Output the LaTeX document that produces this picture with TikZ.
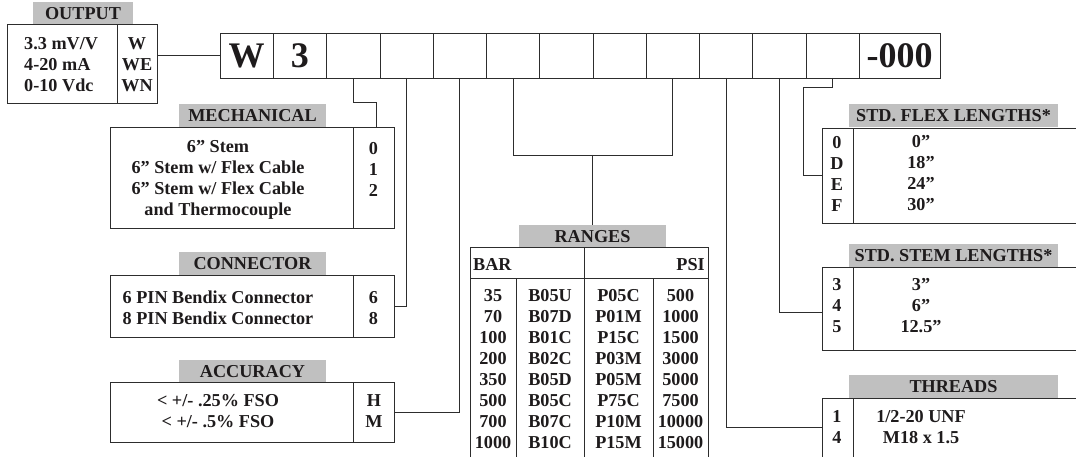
\documentclass[tikz,border=0pt]{standalone}
\usepackage{fontspec}
\setmainfont{Liberation Serif}
\usetikzlibrary{positioning}
\definecolor{linegray}{RGB}{45,45,45}
\definecolor{headgray}{RGB}{192,192,192}
\definecolor{inkgray}{RGB}{30,27,28}
\newcommand{\txtfont}{\fontsize{18.2}{21}\selectfont\bfseries}
\newcommand{\bigfont}{\fontsize{36}{40}\selectfont\bfseries}
\tikzset{
x=1pt, y=-1pt, % one unit is one pixel of the sheet, y runs down
line width=1.4pt, % frames and connectors
box/.style={draw=linegray, rectangle, inner sep=0pt, outer sep=0pt, anchor=north west}, % table frames
head/.style={fill=headgray, inner sep=0pt, minimum height=23pt, anchor=north, text=inkgray, font=\txtfont}, % gray titles
cell/.style={draw=linegray, rectangle, inner sep=0pt, outer sep=0pt, minimum width=53.25pt, minimum height=45pt, text=inkgray, font=\bigfont}, % part number boxes
txt/.style={inner sep=0pt, text=inkgray, font=\txtfont, align=center}, % table text
wire/.style={draw=linegray}, % connectors
}

\begin{document}
\begin{tikzpicture}
  \useasboundingbox (0,0) rectangle (1076,457);
  % part number
  \node[cell, anchor=west] (c1) at (220,55.5) {W};
  \node[cell, right=0pt of c1] (c2) {3};
  \foreach \i [remember=\i as \j (initially 2)] in {3,...,12}
    \node[cell, right=0pt of c\j] (c\i) {};
  \node[cell, minimum width=81pt, right=0pt of c12] (c13) {-000};

  % output
  \node[head, minimum width=100pt] (outtitle) at (83,2) {OUTPUT};
  \node[box, minimum width=110pt, minimum height=79pt] (outbox) at (7,24) {};
  \node[box, minimum width=40pt, minimum height=79pt, right=0pt of outbox] (outcode) {};
  \node[txt, anchor=west, align=left] (outtxt) at (24,65) {3.3 mV/V\\4-20 mA\\0-10 Vdc};
  \node[txt] (outcodes) at (137,65) {W\\WE\\WN};

  % mechanical
  \node[head, minimum width=147pt] (mechtitle) at (252.5,104) {MECHANICAL};
  \node[box, minimum width=243pt, minimum height=101pt] (mech) at (110,127) {};
  \node[box, minimum width=41pt, minimum height=101pt, right=0pt of mech] (mechcode) {};
  \node[txt] (mechtxt) at (218,180) {6'' Stem\\6'' Stem w/ Flex Cable\\6'' Stem w/ Flex Cable\\and Thermocouple};
  \node[txt] (mechcodes) at (373.5,169.5) {0\\1\\2};

  % connector
  \node[head, minimum width=147pt] (conntitle) at (252.5,252) {CONNECTOR};
  \node[box, minimum width=243pt, minimum height=62pt] (conn) at (110,275) {};
  \node[box, minimum width=41pt, minimum height=62pt, right=0pt of conn] (conncode) {};
  \node[txt] (conntxt) at (218,308) {6 PIN Bendix Connector\\8 PIN Bendix Connector};
  \node[txt] (conncodes) at (373.5,308) {6\\8};

  % accuracy
  \node[head, minimum width=147pt] (acctitle) at (252.5,360) {ACCURACY};
  \node[box, minimum width=243pt, minimum height=60pt] (acc) at (110,382) {};
  \node[box, minimum width=41pt, minimum height=60pt, right=0pt of acc] (acccode) {};
  \node[txt] (acctxt) at (218,411) {< +/- .25\% FSO\\< +/- .5\% FSO};
  \node[txt] (acccodes) at (374,411) {H\\M};

  % ranges
  \node[head, minimum width=147pt] (rngtitle) at (592.5,225) {RANGES};
  \node[box, minimum width=114pt, minimum height=31pt] (barhead) at (470,247) {};
  \node[box, minimum width=124pt, minimum height=31pt, right=0pt of barhead] (psihead) {};
  \node[box, minimum width=46pt, minimum height=185pt] (barcol) at (470,278) {};
  \node[box, minimum width=68pt, minimum height=185pt, right=0pt of barcol] (barcodecol) {};
  \node[box, minimum width=69pt, minimum height=185pt, right=0pt of barcodecol] (psicodecol) {};
  \node[box, minimum width=55pt, minimum height=185pt, right=0pt of psicodecol] (psicol) {};
  \node[txt, anchor=west] (bartxt) at (473,265) {BAR};
  \node[txt, anchor=east] (psitxt) at (705,265) {PSI};
  \foreach \b/\bc/\pc/\p [count=\r from 0] in {35/B05U/P05C/500, 70/B07D/P01M/1000,
      100/B01C/P15C/1500, 200/B02C/P03M/3000, 350/B05D/P05M/5000, 500/B05C/P75C/7500,
      700/B07C/P10M/10000, 1000/B10C/P15M/15000} {
    \node[txt] (bar\r) at (493,{296+21*\r}) {\b};
    \node[txt] (barcode\r) at (550,{296+21*\r}) {\bc};
    \node[txt] (psicode\r) at (618.5,{296+21*\r}) {\pc};
    \node[txt] (psi\r) at (680.5,{296+21*\r}) {\p};
  }

  % flex lengths
  \node[head, minimum width=209pt] (flextitle) at (953.5,104) {STD. FLEX LENGTHS*};
  \node[box, minimum width=31pt, minimum height=95pt] (flexcode) at (822,128) {};
  \node[box, minimum width=250pt, minimum height=95pt, right=0pt of flexcode] (flex) {};
  \node[txt] (flexcodes) at (837,173.5) {0\\D\\E\\F};
  \node[txt] (flextxt) at (921,173.5) {0''\\18''\\24''\\30''};

  % stem lengths
  \node[head, minimum width=209pt] (stemtitle) at (953.5,244) {STD. STEM LENGTHS*};
  \node[box, minimum width=31pt, minimum height=83pt] (stemcode) at (822,267) {};
  \node[box, minimum width=250pt, minimum height=83pt, right=0pt of stemcode] (stem) {};
  \node[txt] (stemcodes) at (837,306) {3\\4\\5};
  \node[txt] (stemtxt) at (921,306) {3''\\6''\\12.5''};

  % threads
  \node[head, minimum width=209pt] (thrtitle) at (953.5,375) {THREADS};
  \node[box, minimum width=31pt, minimum height=64pt] (thrcode) at (822,398) {};
  \node[box, minimum width=250pt, minimum height=64pt, right=0pt of thrcode] (thr) {};
  \node[txt] (thrcodes) at (837,427) {1\\4};
  \node[txt] (thrtxt) at (921,427) {1/2-20 UNF\\M18 x 1.5};

  % connectors
  \draw[wire] (c1.west) -- (c1.west -| outcode.east);
  \draw[wire] (c3.south) -- ++(0,24) -| ([xshift=2.5pt]mechcode.north);
  \draw[wire] (c4.south) |- (conncode.east);
  \draw[wire] (c5.south) |- (acccode.east);
  \draw[wire] (c6.south) -- ++(0,77) coordinate (rngfork) -| (c9.south);
  \draw[wire] (rngfork -| rngtitle.north) -- (rngtitle.north);
  \draw[wire] (c10.south) |- ([yshift=3pt]thrcode.west);
  \draw[wire] (c11.south) |- ([yshift=-3.5pt]stemcode.west);
  \draw[wire] (c12.south) -- ++(0,9) -- ++(-29.5,0) |- (flexcode.west);
\end{tikzpicture}
\end{document}
